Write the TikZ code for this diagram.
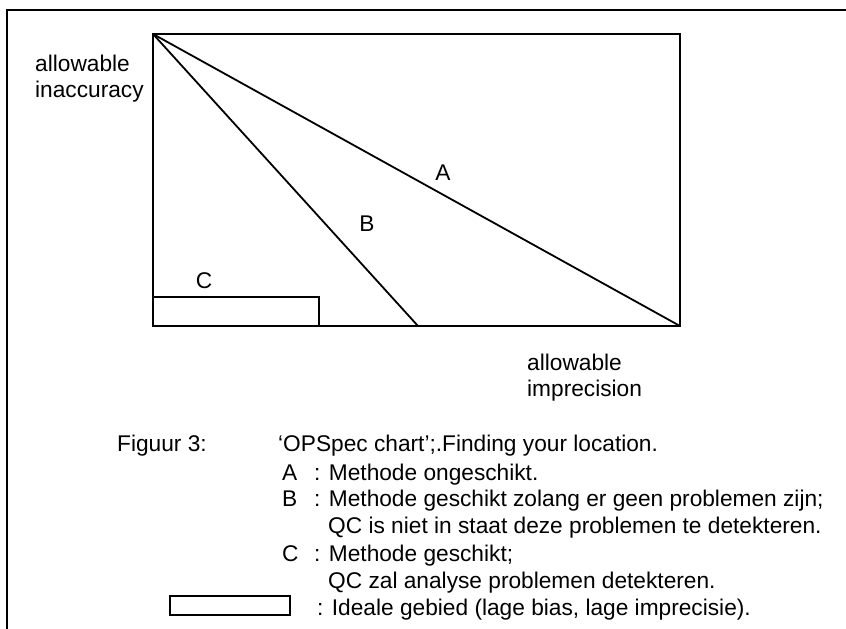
\documentclass[tikz,border=0pt]{standalone}
\usepackage{fontspec}
\setmainfont{Liberation Sans}
\begin{document}
\begin{tikzpicture}[x=1pt,y=-1pt,
  line/.style={line width=1.8pt},
  lab/.style={font=\fontsize{22.7}{26}\selectfont, inner sep=0pt},
  captxt/.style={font=\fontsize{22.7}{26}\selectfont, inner sep=0pt, anchor=base west}]
\useasboundingbox (0,0) rectangle (846,629);
% outer frame (only top and left visible)
\coordinate (ftl) at (7,10);
\coordinate (ftr) at (846,10);
\coordinate (fbl) at (7,629);
\draw[line] (ftr) -- (ftl) -- (fbl);
% chart
\coordinate (tl) at (153,34);
\coordinate (br) at (680,326);
\coordinate (bl) at (153,326);
\coordinate (bB) at (418,326);
\draw[line] (tl) rectangle (br);
\draw[line] (tl) -- (br);
\draw[line] (tl) -- (bB);
\coordinate (cTop) at (319,297);
\draw[line] (bl) rectangle (cTop);
% region labels
\node[lab, anchor=base] (lA) at (443,180) {A};
\node[lab, anchor=base] (lB) at (367,231) {B};
\node[lab, anchor=base] (lC) at (204,288) {C};
% axis labels
\node[lab, anchor=base west] (y1) at (35,71) {allowable};
\node[lab, anchor=base west] (y2) at (35,97) {inaccuracy};
\node[lab, anchor=base west] (x1) at (527,370) {allowable};
\node[lab, anchor=base west] (x2) at (527,396) {imprecision};
% caption
\node[captxt] (fig) at (117,451) {Figuur 3:};
\node[captxt] (title) at (278,451) {`OPSpec chart';.Finding your location.};
\node[captxt] (kA) at (282,480) {A};
\node[captxt] (tA) at (314,480) {: Methode ongeschikt.};
\node[captxt] (kB) at (282,506) {B};
\node[captxt] (tB) at (314,506) {: Methode geschikt zolang er geen problemen zijn;};
\node[captxt] (tB2) at (328,533) {QC is niet in staat deze problemen te detekteren.};
\node[captxt] (kC) at (282,561) {C};
\node[captxt] (tC) at (314,561) {: Methode geschikt;};
\node[captxt] (tC2) at (328,588) {QC zal analyse problemen detekteren.};
\coordinate (r1) at (170,596);
\coordinate (r2) at (290,615);
\draw[line, line width=1.5pt] (r1) rectangle (r2);
\node[captxt] (tI) at (317,615) {: Ideale gebied (lage bias, lage imprecisie).};
\end{tikzpicture}
\end{document}
